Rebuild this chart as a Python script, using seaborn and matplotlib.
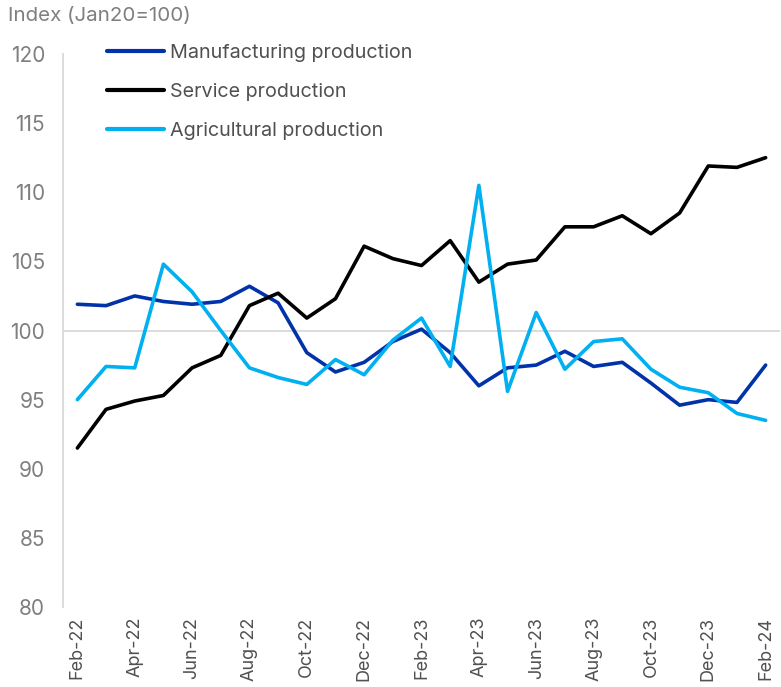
import numpy as np
import pandas as pd
import matplotlib
matplotlib.use('Agg')
import matplotlib.pyplot as plt
import seaborn as sns

# Monthly index values, Feb-22 .. Feb-24 (Jan20=100)
months = ['Feb-22', 'Mar-22', 'Apr-22', 'May-22', 'Jun-22', 'Jul-22', 'Aug-22', 'Sep-22',
          'Oct-22', 'Nov-22', 'Dec-22', 'Jan-23', 'Feb-23', 'Mar-23', 'Apr-23', 'May-23',
          'Jun-23', 'Jul-23', 'Aug-23', 'Sep-23', 'Oct-23', 'Nov-23', 'Dec-23', 'Jan-24', 'Feb-24']

manufacturing = [101.9, 101.8, 102.5, 102.1, 101.9, 102.1, 103.2, 102.0,
                 98.4, 97.0, 97.7, 99.2, 100.1, 98.4, 96.0, 97.3,
                 97.5, 98.5, 97.4, 97.7, 96.2, 94.6, 95.0, 94.8, 97.5]
service = [91.5, 94.3, 94.9, 95.3, 97.3, 98.2, 101.8, 102.7,
           100.9, 102.3, 106.1, 105.2, 104.7, 106.5, 103.5, 104.8,
           105.1, 107.5, 107.5, 108.3, 107.0, 108.5, 111.9, 111.8, 112.5]
agricultural = [95.0, 97.4, 97.3, 104.8, 102.8, 100.0, 97.3, 96.6,
                96.1, 97.9, 96.8, 99.3, 100.9, 97.4, 110.5, 95.6,
                101.3, 97.2, 99.2, 99.4, 97.2, 95.9, 95.5, 94.0, 93.5]

series_names = ['Manufacturing production', 'Service production', 'Agricultural production']
colors = ['#0033AA', '#000000', '#00B0F0']

df = pd.DataFrame({'pos': np.arange(len(months)),
                   series_names[0]: manufacturing,
                   series_names[1]: service,
                   series_names[2]: agricultural})
long = df.melt(id_vars='pos', var_name='series', value_name='index')

sns.set_style('white')
plt.rcParams['font.family'] = ['Inter', 'DejaVu Sans']

fig = plt.figure(figsize=(7.81, 6.87), dpi=100)
ax = fig.add_axes([0.0807, 0.1164, 0.918, 0.8050])

sns.lineplot(data=long, x='pos', y='index', hue='series', hue_order=series_names,
             palette=colors, linewidth=2.6, ax=ax)

ax.axhline(100, color='#d9d9d9', linewidth=1.3, zorder=0)

ax.set_xlim(-0.5, len(months) - 0.5)
ax.set_ylim(80, 120)
ax.set_yticks(range(80, 121, 5))
ax.set_xticks(np.arange(0, len(months), 2))
ax.set_xticklabels(months[::2], rotation=90)
ax.tick_params(axis='y', length=0, pad=13, labelsize=15, labelcolor='#7f7f7f')
ax.tick_params(axis='x', length=0, pad=7, labelsize=13, labelcolor='#505050')
ax.set_xlabel('')
ax.set_ylabel('')

for side in ['top', 'right', 'bottom']:
    ax.spines[side].set_visible(False)
ax.spines['left'].set_color('#d9d9d9')
ax.spines['left'].set_linewidth(1.3)

leg = ax.legend(loc='upper left', bbox_to_anchor=(0.037, 1.05), frameon=False,
                fontsize=14.2, handlelength=2.9, handletextpad=0.3, labelspacing=1.05)
for t in leg.get_texts():
    t.set_color('#505050')
for h in leg.get_lines():
    h.set_linewidth(3)

fig.text(8 / 781, 1 - 16 / 687, 'Index (Jan20=100)', fontsize=14.8, color='#7f7f7f',
         ha='left', va='center')

fig.savefig('out.png', dpi=100)
